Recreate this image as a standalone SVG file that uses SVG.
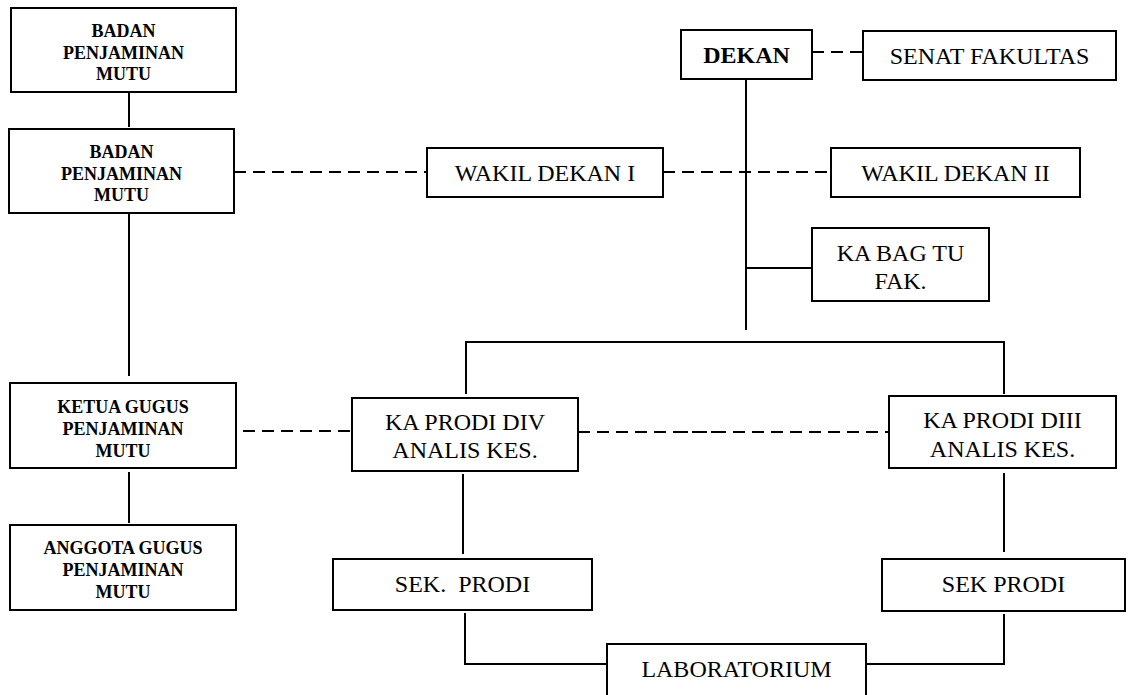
<svg xmlns="http://www.w3.org/2000/svg" width="1131" height="695" viewBox="0 0 1131 695">
<style>
  .box{fill:#fff;stroke:#000;stroke-width:2}
  .ln{fill:none;stroke:#000;stroke-width:2}
  .dash{fill:none;stroke:#000;stroke-width:2;stroke-dasharray:12 7}
  .b{font-family:"Liberation Serif","Times New Roman",serif;font-weight:bold;font-size:18px;text-anchor:middle;fill:#000}
  .r{font-family:"Liberation Serif","Times New Roman",serif;font-size:24px;text-anchor:middle;fill:#000}
  .rb{font-family:"Liberation Serif","Times New Roman",serif;font-weight:bold;font-size:24px;text-anchor:middle;fill:#000}
</style>
<rect width="1131" height="695" fill="#fff"/>
<g id="connectors">
  <line class="ln" x1="129" y1="92" x2="129" y2="127"/>
  <line class="ln" x1="129" y1="213" x2="129" y2="376"/>
  <line class="ln" x1="129" y1="472" x2="129" y2="523"/>
  <line class="dash" x1="234" y1="172" x2="427" y2="172"/>
  <line class="dash" x1="243" y1="431" x2="352" y2="431"/>
  <line class="dash" x1="812" y1="52" x2="863" y2="52"/>
  <line class="dash" x1="663" y1="172" x2="831" y2="172"/>
  <line class="ln" x1="746" y1="79" x2="746" y2="330"/>
  <line class="ln" x1="746" y1="268" x2="812" y2="268"/>
  <polyline class="ln" points="466,394 466,342 1004,342 1004,394"/>
  <line class="dash" x1="578" y1="432" x2="716" y2="432"/>
  <line class="dash" x1="670" y1="432" x2="889" y2="432" style="stroke-dashoffset:13"/>
  <line class="ln" x1="463" y1="474" x2="463" y2="554"/>
  <line class="ln" x1="1004" y1="473" x2="1004" y2="552"/>
  <polyline class="ln" points="465,613 465,664 607,664"/>
  <polyline class="ln" points="866,664 1004,664 1004,614"/>
</g>
<g id="bpm1">
  <rect class="box" x="11" y="8" width="225" height="84"/>
  <text class="b" x="123.5" y="37">BADAN</text>
  <text class="b" x="123.5" y="58.5">PENJAMINAN</text>
  <text class="b" x="123.5" y="80">MUTU</text>
</g>
<g id="bpm2">
  <rect class="box" x="9" y="129" width="225" height="84"/>
  <text class="b" x="121.5" y="158">BADAN</text>
  <text class="b" x="121.5" y="179.5">PENJAMINAN</text>
  <text class="b" x="121.5" y="201">MUTU</text>
</g>
<g id="ketua">
  <rect class="box" x="10" y="383" width="226" height="85"/>
  <text class="b" x="123" y="413">KETUA GUGUS</text>
  <text class="b" x="123" y="435">PENJAMINAN</text>
  <text class="b" x="123" y="457">MUTU</text>
</g>
<g id="anggota">
  <rect class="box" x="10" y="525" width="226" height="85"/>
  <text class="b" x="123" y="554">ANGGOTA GUGUS</text>
  <text class="b" x="123" y="576">PENJAMINAN</text>
  <text class="b" x="123" y="598">MUTU</text>
</g>
<g id="dekan">
  <rect class="box" x="681" y="30" width="131" height="49"/>
  <text class="rb" x="746.5" y="63">DEKAN</text>
</g>
<g id="senat">
  <rect class="box" x="863" y="31" width="253" height="49"/>
  <text class="r" x="989.5" y="64">SENAT FAKULTAS</text>
</g>
<g id="wd1">
  <rect class="box" x="427" y="148" width="236" height="49"/>
  <text class="r" x="545" y="181">WAKIL DEKAN I</text>
</g>
<g id="wd2">
  <rect class="box" x="831" y="148" width="249" height="49"/>
  <text class="r" x="955.5" y="181">WAKIL DEKAN II</text>
</g>
<g id="kabagtu">
  <rect class="box" x="812" y="228" width="177" height="73"/>
  <text class="r" x="900.5" y="261">KA BAG TU</text>
  <text class="r" x="900.5" y="289">FAK.</text>
</g>
<g id="div">
  <rect class="box" x="352" y="398" width="226" height="73"/>
  <text class="r" x="465" y="430">KA PRODI DIV</text>
  <text class="r" x="465" y="458">ANALIS KES.</text>
</g>
<g id="diii">
  <rect class="box" x="889" y="396" width="227" height="72"/>
  <text class="r" x="1002.5" y="428">KA PRODI DIII</text>
  <text class="r" x="1002.5" y="456.5">ANALIS KES.</text>
</g>
<g id="sek1">
  <rect class="box" x="333" y="559" width="259" height="51"/>
  <text class="r" x="462.5" y="592" xml:space="preserve">SEK.  PRODI</text>
</g>
<g id="sek2">
  <rect class="box" x="882" y="559" width="243" height="52"/>
  <text class="r" x="1003.5" y="592">SEK PRODI</text>
</g>
<g id="lab">
  <rect class="box" x="607" y="644" width="259" height="53"/>
  <text class="r" x="736.5" y="677">LABORATORIUM</text>
</g>
</svg>
